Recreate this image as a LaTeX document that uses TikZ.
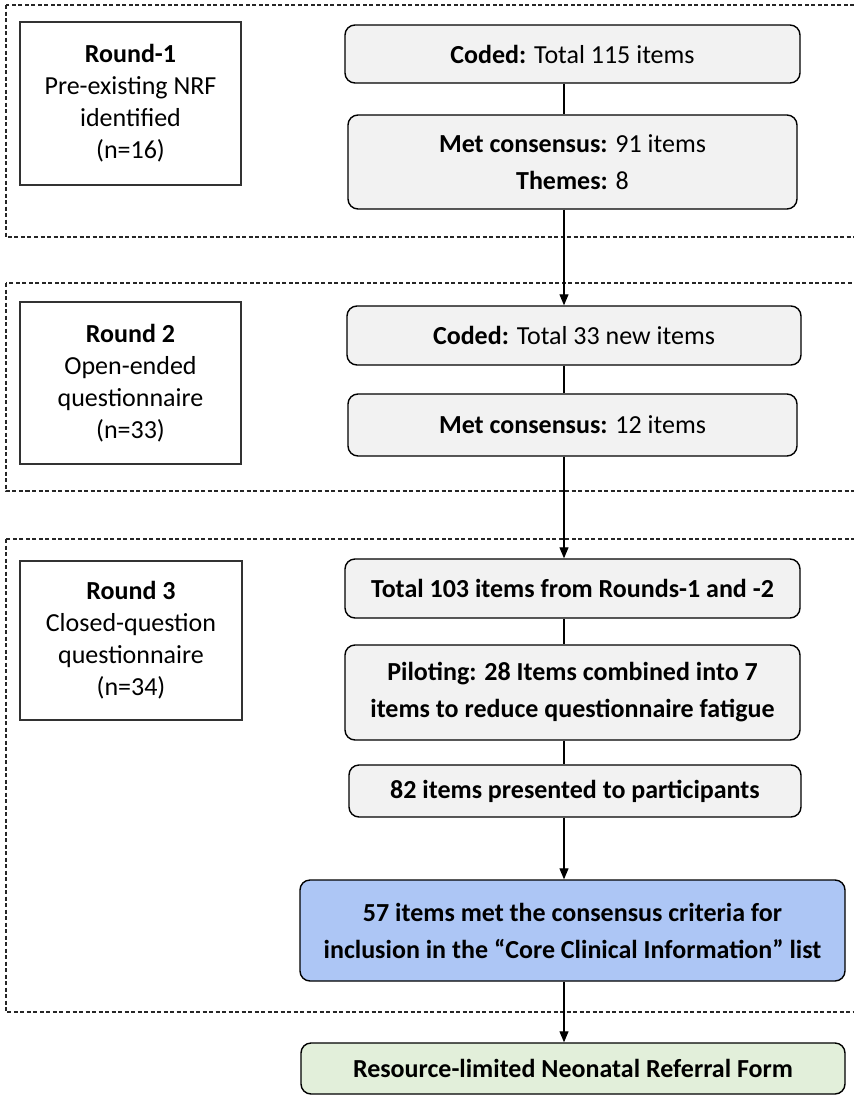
\documentclass[tikz,border=0pt]{standalone}
\usepackage{fontspec}
\setmainfont{Carlito}
\usetikzlibrary{arrows.meta}
\definecolor{boxgray}{RGB}{242,242,242}
\definecolor{boxblue}{RGB}{173,198,245}
\definecolor{boxgreen}{RGB}{226,239,218}
\definecolor{edgegray}{RGB}{50,50,50}
\begin{document}
\begin{tikzpicture}[x=1pt,y=-1pt,
  roundbox/.style={draw=edgegray, line width=1.5pt, fill=white, inner sep=0pt,
    align=center, font=\fontsize{26}{32}\selectfont},
  stepbox/.style={draw=black, line width=1.4pt, rounded corners=10pt, fill=boxgray,
    inner sep=0pt, align=center, font=\fontsize{26}{37}\selectfont},
  framebox/.style={draw=black!85, line width=1.1pt, dash pattern=on 4pt off 2.5pt},
  conn/.style={draw=black, line width=1.1pt},
  arr/.style={conn, -{Triangle[length=11pt,width=9pt]}}]
\useasboundingbox (0,0) rectangle (854,1095);
\clip (0,0) rectangle (854,1095);
\fill[white] (0,0) rectangle (854,1095);

% frames
\draw[framebox] (6,5) rectangle (900,237);
\draw[framebox] (6,283) rectangle (900,491);
\draw[framebox] (6,539) rectangle (900,1012);

\coordinate (ax) at (564,0);

% round boxes
\node[roundbox, minimum width=221pt, minimum height=163pt] (r1) at (130.5,103.5)
  {\textbf{Round-1}\\Pre-existing NRF\\identified\\(n=16)};
\node[roundbox, minimum width=221pt, minimum height=162pt] (r2) at (130.5,383)
  {\textbf{Round 2}\\Open-ended\\questionnaire\\(n=33)};
\node[roundbox, minimum width=222pt, minimum height=159pt] (r3) at (131,640.5)
  {\textbf{Round 3}\\Closed-question\\questionnaire\\(n=34)};

% step boxes
\node[stepbox, minimum width=455pt, minimum height=58pt] (c1) at (572.5,54)
  {\textbf{Coded:} Total 115 items};
\node[stepbox, minimum width=449pt, minimum height=94pt] (m1) at (572.5,162)
  {\textbf{Met consensus:} 91 items\\\textbf{Themes:} 8};
\node[stepbox, minimum width=454pt, minimum height=59pt] (c2) at (574,335.5)
  {\textbf{Coded:} Total 33 new items};
\node[stepbox, minimum width=449pt, minimum height=62pt] (m2) at (572.5,425)
  {\textbf{Met consensus:} 12 items};
\node[stepbox, minimum width=455pt, minimum height=59pt] (t3) at (572.5,588.5)
  {\textbf{Total 103 items from Rounds-1 and -2}};
\node[stepbox, minimum width=455pt, minimum height=95pt] (p3) at (572.5,692.5)
  {\textbf{Piloting: 28 Items combined into 7}\\\textbf{items to reduce questionnaire fatigue}};
\node[stepbox, minimum width=452pt, minimum height=52pt] (e3) at (575,791)
  {\textbf{82 items presented to participants}};
\node[stepbox, fill=boxblue, minimum width=545pt, minimum height=101pt] (b3) at (572.5,930.5)
  {\textbf{57 items met the consensus criteria for}\\\textbf{inclusion in the “Core Clinical Information” list}};
\node[stepbox, fill=boxgreen, minimum width=544pt, minimum height=51pt] (g) at (573,1068.5)
  {\textbf{Resource-limited Neonatal Referral Form}};

% connectors
\draw[conn] (c1.south -| ax) -- (m1.north -| ax);
\draw[arr] (m1.south -| ax) -- (c2.north -| ax);
\draw[conn] (c2.south -| ax) -- (m2.north -| ax);
\draw[arr] (m2.south -| ax) -- (t3.north -| ax);
\draw[conn] (t3.south -| ax) -- (p3.north -| ax);
\draw[conn] (p3.south -| ax) -- (e3.north -| ax);
\draw[arr] (e3.south -| ax) -- (b3.north -| ax);
\draw[arr] (b3.south -| ax) -- (g.north -| ax);
\end{tikzpicture}
\end{document}
